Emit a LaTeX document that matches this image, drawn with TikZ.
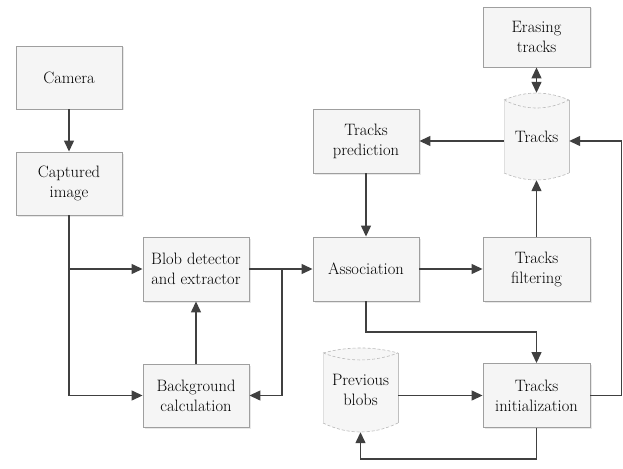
\documentclass[tikz,border=0pt]{standalone}
\usetikzlibrary{arrows.meta,shadows,calc}
\begin{document}
\begin{tikzpicture}[x=1pt,y=-1pt,
  every node/.style={font=\rmfamily\fontsize{16.5}{20}\selectfont, text=black, align=center},
  box/.style={rectangle, draw=gray!75, line width=0.9pt, fill=gray!8, inner sep=0pt,
    minimum width=106pt, minimum height=63pt,
    drop shadow={opacity=0.18, shadow xshift=1.5pt, shadow yshift=-1.5pt}},
  cylnode/.style={rectangle, inner sep=0pt},
  cylfill/.style={fill=gray!7},
  cylrim/.style={draw=gray!55, line width=0.6pt, densely dashed},
  cylside/.style={draw=gray!50, line width=0.8pt},
  arr/.style={draw=black!75, line width=1.3pt, -{Triangle[length=11pt,width=10pt]}},
  darr/.style={draw=black!75, line width=1.3pt, {Triangle[length=11pt,width=10pt]}-{Triangle[length=11pt,width=10pt]}}
]
\useasboundingbox (0,0) rectangle (623,468);

% cylinder shapes
\fill[cylfill] (504,100) .. controls (525.7,90.7) and (547.3,90.7) .. (569,100) -- (569,173) .. controls (547.3,182.3) and (525.7,182.3) .. (504,173) -- cycle;
\draw[cylrim] (504,100) .. controls (525.7,90.7) and (547.3,90.7) .. (569,100);
\draw[cylrim] (504,100) .. controls (525.7,110.7) and (547.3,110.7) .. (569,100);
\draw[cylrim] (504,173) .. controls (525.7,182.3) and (547.3,182.3) .. (569,173);
\draw[cylside, draw=gray!25] (504,100) -- (504,173);
\draw[cylside] (569,100) -- (569,173);

\fill[cylfill] (323,353) .. controls (348,346.3) and (373,346.3) .. (398,353) -- (398,423) .. controls (373,435) and (348,435) .. (323,423) -- cycle;
\draw[cylrim] (323,353) .. controls (348,346.3) and (373,346.3) .. (398,353);
\draw[cylrim] (323,353) .. controls (348,362.3) and (373,362.3) .. (398,353);
\draw[cylrim] (323,423) .. controls (348,435) and (373,435) .. (398,423);
\draw[cylside, draw=gray!25] (323,353) -- (323,423);
\draw[cylside] (398,353) -- (398,423);

% nodes
\node[box] (camera) at (69,77.5) {Camera};
\node[box] (captured) at (69,183.5) {Captured\\image};
\node[box, minimum height=64pt] (blob) at (196,269) {Blob detector\\and extractor};
\node[box] (bg) at (196,395.5) {Background\\calculation};
\node[box, minimum height=64pt] (assoc) at (366,269) {Association};
\node[box, minimum height=64pt] (pred) at (366,141) {Tracks\\prediction};
\node[box, minimum width=107pt, minimum height=60pt] (erase) at (536.5,37) {Erasing\\tracks};
\node[box, minimum width=107pt, minimum height=64pt] (filt) at (536.5,269) {Tracks\\filtering};
\node[box, minimum width=107pt, minimum height=64pt] (init) at (536.5,395.5) {Tracks\\initialization};
\node[cylnode, minimum width=65pt, minimum height=87pt] (tracks) at (536.5,136.5) {Tracks};
\node[cylnode, minimum width=75pt, minimum height=84pt] (prev) at (360.5,390) {Previous\\blobs};

\coordinate (br) at (282,269);
\coordinate (mid) at (0,332);
\coordinate (bot) at (0,459);
\coordinate (rx) at (621.5,0);

% connectors
\draw[arr] (camera.south) -- (captured.north);
\draw[arr] (captured.south) |- (blob.west);
\draw[arr] (captured.south) |- (bg.west);
\draw[arr] (bg.north) -- (blob.south);
\draw[arr] (blob.east) -- (assoc.west);
\draw[arr] (br) |- (bg.east);
\draw[arr] (assoc.east) -- (filt.west);
\draw[arr] (filt.north) -- (tracks.south);
\draw[arr] (tracks.west |- pred.east) -- (pred.east);
\draw[arr] (pred.south) -- (assoc.north);
\draw[arr] (assoc.south) -- (assoc.south |- mid) -| (init.north);
\draw[arr] (prev.east |- init.west) -- (init.west);
\draw[arr] (init.south) -- (init.south |- bot) -| (prev.south);
\draw[arr] (init.east) -- (rx |- init.east) -- (rx |- pred.east) -- (tracks.east |- pred.east);
\draw[darr] (erase.south) -- (tracks.north);
\end{tikzpicture}
\end{document}
